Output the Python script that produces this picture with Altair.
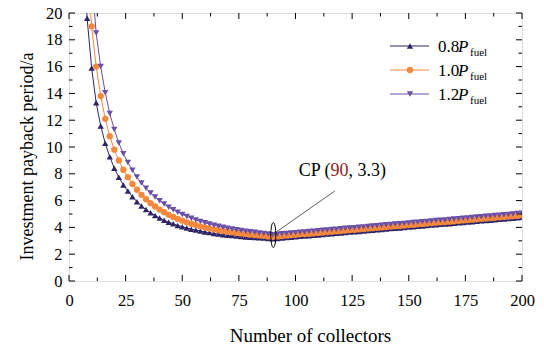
import altair as alt
import pandas as pd

FONT = "Liberation Serif"

# number of collectors (x grid of the markers)
n_vals = list(range(6, 201, 2))

# investment payback period (a)
p08 = [26.0, 19.6, 15.9, 13.3, 11.57, 10.27, 9.28, 8.41, 7.74, 7.17,
       6.71, 6.28, 5.92, 5.60, 5.33, 5.09, 4.89, 4.70, 4.54, 4.39,
       4.27, 4.15, 4.05, 3.96, 3.87, 3.80, 3.73, 3.66, 3.61, 3.55,
       3.51, 3.46, 3.42, 3.39, 3.35, 3.32, 3.29, 3.26, 3.24, 3.22,
       3.20, 3.17, 3.15,
       3.18, 3.21, 3.24, 3.27, 3.30, 3.33, 3.35, 3.38, 3.41, 3.44,
       3.47, 3.50, 3.53, 3.56, 3.59, 3.62, 3.65, 3.67, 3.70, 3.73,
       3.76, 3.79, 3.82, 3.85, 3.88, 3.91, 3.94, 3.96, 3.99, 4.02,
       4.05, 4.08, 4.11, 4.14, 4.17, 4.20, 4.23, 4.25, 4.28, 4.31,
       4.34, 4.37, 4.40, 4.43, 4.46, 4.49, 4.52, 4.54, 4.57, 4.60,
       4.63, 4.66, 4.69, 4.72, 4.75]
p10 = [31.5, 23.6, 19.0, 16.0, 13.8, 12.1, 10.8, 9.8, 9.0, 8.3,
       7.75, 7.24, 6.81, 6.43, 6.10, 5.81, 5.56, 5.33, 5.13, 4.94,
       4.78, 4.63, 4.50, 4.38, 4.27, 4.17, 4.08, 3.99, 3.92, 3.85,
       3.79, 3.73, 3.67, 3.63, 3.58, 3.54, 3.50, 3.46, 3.43, 3.40,
       3.37, 3.33, 3.30,
       3.33, 3.36, 3.39, 3.42, 3.45, 3.48, 3.50, 3.53, 3.56, 3.59,
       3.62, 3.65, 3.68, 3.71, 3.74, 3.77, 3.80, 3.82, 3.85, 3.88,
       3.91, 3.94, 3.97, 4.00, 4.03, 4.06, 4.09, 4.11, 4.14, 4.17,
       4.20, 4.23, 4.26, 4.29, 4.32, 4.35, 4.38, 4.40, 4.43, 4.46,
       4.49, 4.52, 4.55, 4.58, 4.61, 4.64, 4.67, 4.69, 4.72, 4.75,
       4.78, 4.81, 4.84, 4.87, 4.90]
p12 = [38.0, 28.5, 22.6, 18.5, 16.0, 14.05, 12.5, 11.3, 10.3, 9.5,
       8.85, 8.27, 7.76, 7.31, 6.92, 6.57, 6.27, 5.99, 5.74, 5.51,
       5.31, 5.13, 4.97, 4.82, 4.68, 4.56, 4.45, 4.34, 4.25, 4.16,
       4.08, 4.01, 3.93, 3.88, 3.82, 3.77, 3.72, 3.67, 3.63, 3.59,
       3.55, 3.50, 3.46,
       3.49, 3.52, 3.55, 3.58, 3.61, 3.64, 3.66, 3.69, 3.72, 3.75,
       3.78, 3.81, 3.84, 3.87, 3.90, 3.93, 3.96, 3.98, 4.01, 4.04,
       4.07, 4.10, 4.13, 4.16, 4.19, 4.22, 4.25, 4.27, 4.30, 4.33,
       4.36, 4.39, 4.42, 4.45, 4.48, 4.51, 4.54, 4.56, 4.59, 4.62,
       4.65, 4.68, 4.71, 4.74, 4.77, 4.80, 4.83, 4.85, 4.88, 4.91,
       4.94, 4.97, 5.00, 5.03, 5.06]

series_names = ["0.8", "1.0", "1.2"]
series_colors = ["#2f2566", "#f5883c", "#6a4fa6"]
series_shapes = ["triangle-up", "circle", "triangle-down"]

x_major = [0, 25, 50, 75, 100, 125, 150, 175, 200]
x_minor = [12.5, 37.5, 62.5, 87.5, 112.5, 137.5, 162.5, 187.5]
y_major = [0, 2, 4, 6, 8, 10, 12, 14, 16, 18, 20]
y_minor = [1, 3, 5, 7, 9, 11, 13, 15, 17, 19]

cp_x, cp_y = 90, 3.3

W, H = 453, 268

rows = []
for name, vals in zip(series_names, [p08, p10, p12]):
    for n, v in zip(n_vals, vals):
        rows.append({"n": n, "y": v, "s": name})
df = pd.DataFrame(rows)

xs = alt.Scale(domain=[0, 200], nice=False, zero=False)
ys = alt.Scale(domain=[0, 20], nice=False, zero=False)

x_axis = alt.Axis(values=x_major, ticks=False, domain=False, grid=False,
                  labelFont=FONT, labelFontSize=16.5, labelColor="black",
                  labelPadding=11, labelFlush=False,
                  title="Number of collectors", titleFont=FONT, titleFontSize=19,
                  titleFontWeight="normal", titleColor="black",
                  titleX=241, titleY=60, titleBaseline="alphabetic", titleAlign="center")
y_axis = alt.Axis(values=y_major, ticks=False, domain=False, grid=False,
                  labelFont=FONT, labelFontSize=16.5, labelColor="black",
                  labelPadding=7, labelFlush=False,
                  title="Investment payback period/a", titleFont=FONT, titleFontSize=18,
                  titleFontWeight="normal", titleColor="black",
                  titleAngle=-90, titleX=-33, titleY=143, titleBaseline="bottom",
                  titleAlign="center")

X = alt.X("n:Q", scale=xs, axis=x_axis)
Y = alt.Y("y:Q", scale=ys, axis=y_axis)

color = alt.Color("s:N", scale=alt.Scale(domain=series_names, range=series_colors), legend=None)
shape = alt.Shape("s:N", scale=alt.Scale(domain=series_names, range=series_shapes), legend=None)

lines = alt.Chart(df).mark_line(strokeWidth=1, clip=True).encode(x=X, y=Y, color=color, detail="s:N")
points = alt.Chart(df).mark_point(filled=True, size=40, opacity=1, clip=True).encode(
    x=X, y=Y, color=color, shape=shape)

# frame ticks (inward)
def ticks(vals, axis, length):
    d = pd.DataFrame({("n" if axis == "x" else "y"): vals})
    layers = []
    if axis == "x":
        layers.append(alt.Chart(d).mark_rule(color="black", strokeWidth=1).encode(
            x=alt.X("n:Q", scale=xs, axis=x_axis), y=alt.value(H), y2=alt.value(H - length)))
        layers.append(alt.Chart(d).mark_rule(color="black", strokeWidth=1).encode(
            x=alt.X("n:Q", scale=xs, axis=x_axis), y=alt.value(0), y2=alt.value(length)))
    else:
        layers.append(alt.Chart(d).mark_rule(color="black", strokeWidth=1).encode(
            y=alt.Y("y:Q", scale=ys, axis=y_axis), x=alt.value(0), x2=alt.value(length)))
        layers.append(alt.Chart(d).mark_rule(color="black", strokeWidth=1).encode(
            y=alt.Y("y:Q", scale=ys, axis=y_axis), x=alt.value(W), x2=alt.value(W - length)))
    return layers

tick_layers = (ticks(x_major, "x", 6) + ticks(x_minor, "x", 3.5)
               + ticks(y_major, "y", 6) + ticks(y_minor, "y", 3.5))

# CP annotation
ell = alt.Chart(pd.DataFrame({"n": [90.2], "y": [3.43]})).mark_point(
    shape="M 0 -1 A 0.2 1 0 1 1 0 1 A 0.2 1 0 1 1 0 -1 Z",
    size=625, filled=False, strokeWidth=1, color="black", opacity=1).encode(x=X, y=Y)
lead = alt.Chart(pd.DataFrame({"n": [91.7], "y": [3.68], "n2": [117.4], "y2": [6.72]})).mark_rule(
    color="#333333", strokeWidth=0.8).encode(x=X, y=Y, x2="n2:Q", y2="y2:Q")
lab_df = pd.DataFrame({"n": [115.5], "y": [7.8]})
t1 = alt.Chart(lab_df).mark_text(text="CP (", align="right", baseline="alphabetic",
                                 font=FONT, fontSize=18, color="black").encode(x=X, y=Y)
t2 = alt.Chart(lab_df).mark_text(text=str(cp_x), align="left", baseline="alphabetic",
                                 font=FONT, fontSize=18, color="#8b1e1e").encode(x=X, y=Y)
t3 = alt.Chart(lab_df).mark_text(text=", " + str(cp_y) + ")", align="left", baseline="alphabetic",
                                 font=FONT, fontSize=18, color="black", dx=18).encode(x=X, y=Y)

# custom legend
one = pd.DataFrame({"a": [0]})
leg_layers = []
row_y = [33, 57, 81]
for name, col, shp, ry in zip(series_names, series_colors, series_shapes, row_y):
    leg_layers.append(alt.Chart(one).mark_rule(color=col, strokeWidth=1).encode(
        x=alt.value(321), x2=alt.value(360), y=alt.value(ry)))
    leg_layers.append(alt.Chart(one).mark_point(shape=shp, filled=True, size=40, color=col, opacity=1).encode(
        x=alt.value(341), y=alt.value(ry)))
    leg_layers.append(alt.Chart(one).mark_text(text=name, align="left", baseline="alphabetic",
                                               font=FONT, fontSize=17, color="black").encode(
        x=alt.value(369), y=alt.value(ry + 6)))
    leg_layers.append(alt.Chart(one).mark_text(text="P", align="left", baseline="alphabetic",
                                               font=FONT, fontSize=17, fontStyle="italic", color="black").encode(
        x=alt.value(389), y=alt.value(ry + 6)))
    leg_layers.append(alt.Chart(one).mark_text(text="fuel", align="left", baseline="alphabetic",
                                               font=FONT, fontSize=11, color="black").encode(
        x=alt.value(401), y=alt.value(ry + 10)))

chart = alt.layer(lines, points, *tick_layers, ell, lead, t1, t2, t3, *leg_layers).properties(
    width=W, height=H,
    autosize=alt.AutoSizeParams(type="none"),
    padding={"left": 69, "top": 13, "right": 22, "bottom": 63},
).configure_view(stroke="black", strokeWidth=1.2).configure(background="white")

chart.save("out.html", embed_options={"renderer": "svg", "actions": False})
